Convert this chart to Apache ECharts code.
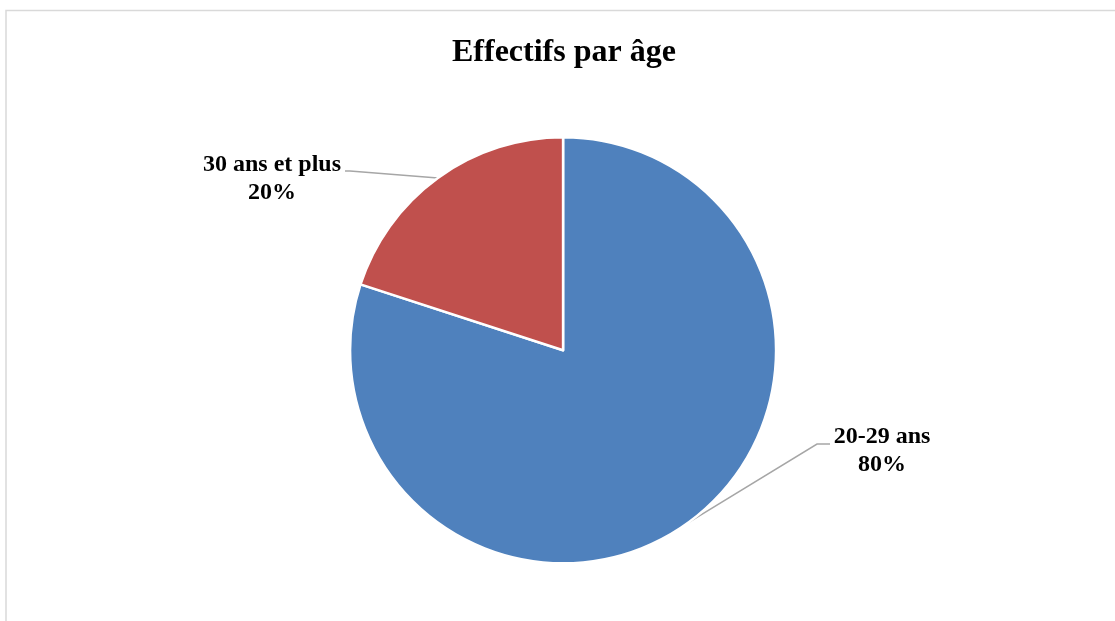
<!DOCTYPE html>
<html>
<head>
<meta charset="utf-8">
<script src="https://cdn.jsdelivr.net/npm/echarts@6/dist/echarts.min.js"></script>
<style>
html,body{margin:0;padding:0;background:#fff;}
#c{width:1115px;height:621px;}
</style>
</head>
<body>
<div id="c"></div>
<script>
const categories = ['20-29 ans', '30 ans et plus'];
const values = [80, 20];
const colors = ['#4F81BD', '#C0504D'];
const titleText = 'Effectifs par âge';

// label anchor positions (label centre) and elbow points for leader lines
const labelPos = {
  '20-29 ans': { x: 882, y: 451, elbow: [[817, 444], [830, 444]] },
  '30 ans et plus': { x: 272, y: 179, elbow: [[350, 171], [345, 171]] }
};

const chart = echarts.init(document.getElementById('c'), null, { renderer: 'canvas' });
chart.setOption({
  animation: false,
  backgroundColor: '#fff',
  title: {
    text: titleText,
    left: 447,
    top: 32,
    textStyle: { fontFamily: 'Liberation Serif', fontWeight: 'bold', fontSize: 32, color: '#000' }
  },
  graphic: [{
    type: 'rect',
    shape: { x: 6, y: 10.5, width: 1200, height: 700 },
    style: { fill: 'none', stroke: '#d9d9d9', lineWidth: 1.5 },
    silent: true
  }],
  series: [{
    type: 'pie',
    center: ['50.5%', '56.4%'],
    radius: 213,
    startAngle: 90,
    clockwise: true,
    data: categories.map((c, i) => ({ name: c, value: values[i], itemStyle: { color: colors[i] } })),
    itemStyle: { borderColor: '#fff', borderWidth: 2.5 },
    label: {
      show: true,
      formatter: '{b}\n{d}%',
      fontFamily: 'Liberation Serif',
      fontWeight: 'bold',
      fontSize: 24,
      lineHeight: 28,
      color: '#000',
      align: 'center'
    },
    labelLine: { show: true, lineStyle: { color: '#a6a6a6', width: 1.5 } },
    labelLayout: function (params) {
      const name = categories[params.dataIndex];
      const p = labelPos[name];
      const pts = params.labelLinePoints;
      return {
        x: p.x,
        y: p.y,
        align: 'center',
        verticalAlign: 'middle',
        labelLinePoints: [pts[0], p.elbow[0], p.elbow[1]]
      };
    }
  }]
});
</script>
</body>
</html>
